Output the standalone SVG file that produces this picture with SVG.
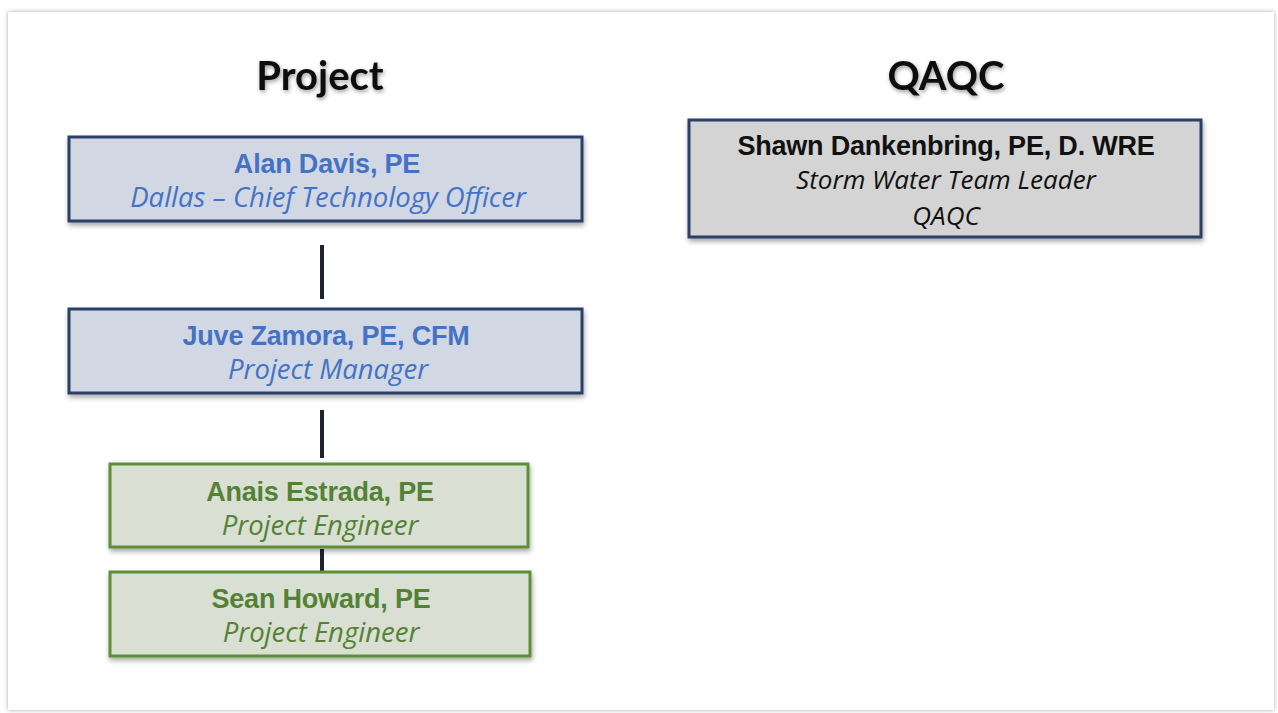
<svg xmlns="http://www.w3.org/2000/svg" width="1278" height="713" viewBox="0 0 1278 713">
<defs>
<filter id="sh" x="-5%" y="-10%" width="110%" height="130%"><feDropShadow dx="1" dy="3" stdDeviation="2.5" flood-color="#000" flood-opacity="0.35"/></filter>
<filter id="tsh" x="-10%" y="-20%" width="120%" height="150%"><feDropShadow dx="1" dy="2" stdDeviation="2" flood-color="#000" flood-opacity="0.4"/></filter>
<filter id="fsh" x="-2%" y="-2%" width="104%" height="104%"><feDropShadow dx="0" dy="0" stdDeviation="2" flood-color="#000" flood-opacity="0.35"/></filter>
</defs>
<style>
.title{font-family:"Lato","Liberation Sans",sans-serif;font-weight:bold;font-size:40px;fill:#111;text-anchor:middle}
.name{font-family:"Liberation Sans",Arial,sans-serif;font-weight:bold;font-size:27px;text-anchor:middle;letter-spacing:-0.2px}
.role{font-family:"Open Sans","Liberation Sans",sans-serif;font-style:italic;font-size:27.5px;text-anchor:middle}
.grey .role{font-size:26px}
.blue rect{fill:#d1d7e3;stroke:#2b3f66;stroke-width:3}
.blue text{fill:#4472c4}
.green rect{fill:#d9dfd3;stroke:#5b8f38;stroke-width:3}
.green text{fill:#548235}
.grey rect{fill:#d4d4d4;stroke:#2b3f66;stroke-width:3}
.grey text{fill:#111}
.conn line{stroke:#1c2333;stroke-width:4}
</style>
<rect x="0" y="0" width="1278" height="713" fill="#ffffff"/>
<rect x="8" y="12" width="1266" height="698" fill="#ffffff" filter="url(#fsh)"/>
<text class="title" x="320" y="90" filter="url(#tsh)">Project</text>
<text class="title" x="946" y="90" filter="url(#tsh)">QAQC</text>
<g class="conn" id="connectors">
<line x1="322" y1="245" x2="322" y2="299"/>
<line x1="322" y1="410" x2="322" y2="458"/>
<line x1="322" y1="549" x2="322" y2="571"/>
</g>
<g id="alan" class="blue">
<rect x="69" y="137" width="513" height="84" filter="url(#sh)"/>
<text class="name" x="327" y="173">Alan Davis, PE</text>
<text class="role" x="328" y="207">Dallas – Chief Technology Officer</text>
</g>
<g id="juve" class="blue">
<rect x="69" y="309" width="513" height="84" filter="url(#sh)"/>
<text class="name" x="326" y="345">Juve Zamora, PE, CFM</text>
<text class="role" x="328" y="379">Project Manager</text>
</g>
<g id="anais" class="green">
<rect x="110" y="464" width="418" height="83" filter="url(#sh)"/>
<text class="name" x="320" y="501">Anais Estrada, PE</text>
<text class="role" x="320" y="535">Project Engineer</text>
</g>
<g id="sean" class="green">
<rect x="110" y="572" width="420" height="84" filter="url(#sh)"/>
<text class="name" x="321" y="608">Sean Howard, PE</text>
<text class="role" x="321" y="642">Project Engineer</text>
</g>
<g id="shawn" class="grey">
<rect x="689" y="120" width="512" height="117" filter="url(#sh)"/>
<text class="name" x="946" y="155">Shawn Dankenbring, PE, D. WRE</text>
<text class="role" x="946" y="189">Storm Water Team Leader</text>
<text class="role" x="946" y="225">QAQC</text>
</g>
</svg>
